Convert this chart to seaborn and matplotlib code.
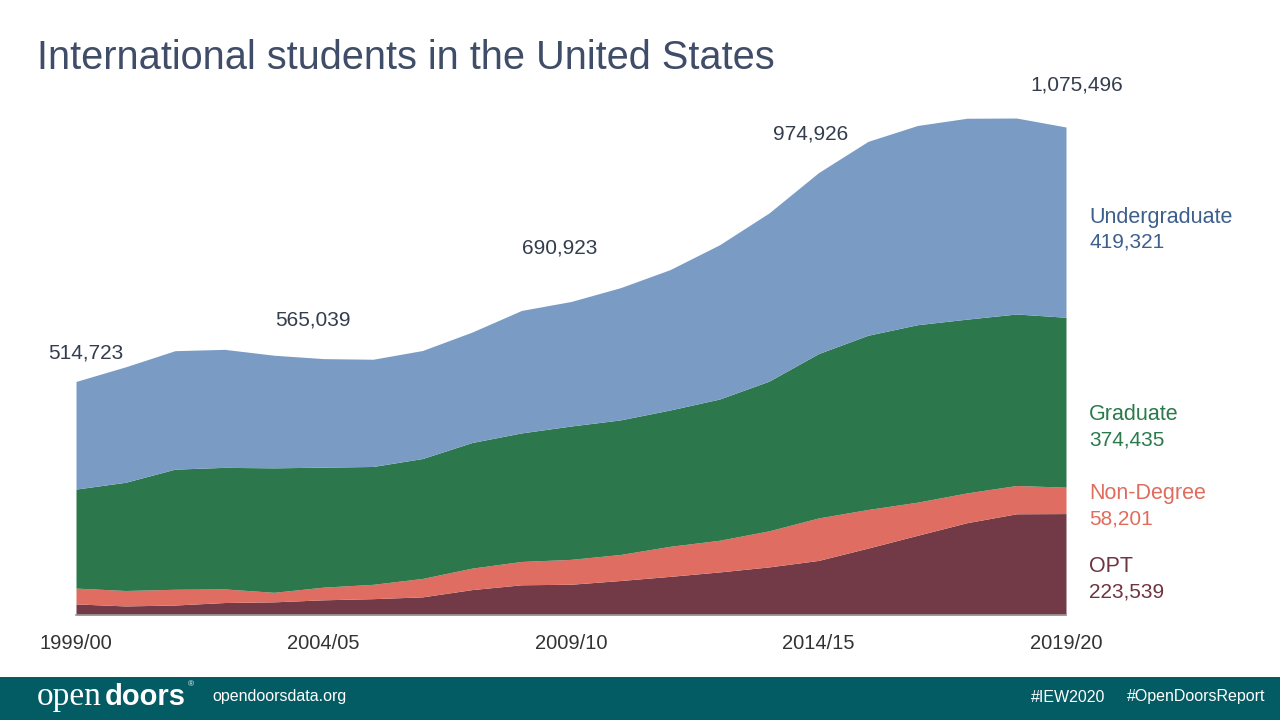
import numpy as np
import matplotlib
matplotlib.use("Agg")
import matplotlib.pyplot as plt
from matplotlib.patches import Rectangle
import seaborn as sns

# Open Doors enrolment by academic level
years = ["1999/00", "2000/01", "2001/02", "2002/03", "2003/04", "2004/05", "2005/06",
         "2006/07", "2007/08", "2008/09", "2009/10", "2010/11", "2011/12", "2012/13",
         "2013/14", "2014/15", "2015/16", "2016/17", "2017/18", "2018/19", "2019/20"]
undergrad = [237211, 254429, 261079, 260103, 248200, 239212, 236342, 238050, 243360, 269874,
             274431, 291439, 309342, 339993, 370724, 398824, 427313, 439019, 442746, 431930, 419321]
graduate = [218219, 238497, 264749, 267876, 274310, 264410, 259717, 264288, 276842, 283329,
            293885, 296574, 300430, 311204, 329854, 362228, 383935, 391124, 382953, 377943, 374435]
non_degree = [34893, 34000, 34700, 30000, 21000, 27917, 31600, 40600, 47300, 51400,
              54803, 57400, 66200, 69800, 79500, 93587, 85093, 72984, 65631, 62341, 58201]
opt = [24400, 20000, 22000, 27500, 29000, 33500, 36000, 40000, 56000, 66600,
       67804, 76031, 85157, 94919, 105997, 120287, 147498, 175695, 203462, 223085, 223539]

tick_years = ["1999/00", "2004/05", "2009/10", "2014/15", "2019/20"]

sns.set_theme(style="white")
plt.rcParams["font.family"] = ["Liberation Sans", "DejaVu Sans"]

colors = {"OPT": "#723a46", "Non-Degree": "#df6d61", "Graduate": "#2c774c", "Undergraduate": "#7a9cc4"}
label_colors = {"OPT": "#6e3440", "Non-Degree": "#e06c5e", "Graduate": "#2a7a4b", "Undergraduate": "#3d5f8c"}

W, H = 1280, 720
fig = plt.figure(figsize=(12.8, 7.2), dpi=100)
fig.patch.set_facecolor("white")

# axes placed so the plot spans the same pixels as the reference
base_px, top_px = 615, 127
ymax = 1100000
total_last = undergrad[-1] + graduate[-1] + non_degree[-1] + opt[-1]
px_per = (base_px - top_px) / total_last
ax_h = ymax * px_per
ax = fig.add_axes([76 / W, 1 - base_px / H, (1066 - 76) / W, ax_h / H])

x = np.arange(len(years))
ax.stackplot(x, opt, non_degree, graduate, undergrad,
             colors=[colors["OPT"], colors["Non-Degree"], colors["Graduate"], colors["Undergraduate"]],
             linewidth=0)
ax.set_xlim(0, len(years) - 1)
ax.set_ylim(0, ymax)
ax.set_yticks([])
sns.despine(ax=ax, left=True, right=True, top=True)
ax.spines["bottom"].set_color("#9a9a9a")
ax.spines["bottom"].set_linewidth(1.2)
ax.set_xticks([years.index(t) for t in tick_years])
ax.set_xticklabels(tick_years, fontsize=14.5, color="#333333")
ax.tick_params(axis="x", length=0, pad=14)
ax.set_facecolor("none")

# total labels
totals = np.array(undergrad) + np.array(graduate) + np.array(non_degree) + np.array(opt)
offsets = {"1999/00": (10, 28), "2004/05": (-11, 39), "2009/10": (-11, 53),
           "2014/15": (-8, 39), "2019/20": (11, 42)}
for t in tick_years:
    i = years.index(t)
    dx, dy = offsets[t]
    ax.annotate(f"{totals[i]:,}", (i, totals[i]), xytext=(dx, dy), textcoords="offset pixels",
                ha="center", va="center", fontsize=15, color="#333d4d", annotation_clip=False)

# right-side series labels
series = [("Undergraduate", undergrad[-1], 217), ("Graduate", graduate[-1], 415),
          ("Non-Degree", non_degree[-1], 494), ("OPT", opt[-1], 567)]
for name, val, ypx in series:
    fig.text(1089 / W, 1 - ypx / H, name, fontsize=15.5, color=label_colors[name], va="center", ha="left")
    fig.text(1089 / W, 1 - (ypx + 25) / H, f"{val:,}", fontsize=15, color=label_colors[name],
             va="center", ha="left")

# title
fig.text(37 / W, 1 - 58 / H, "International students in the United States", fontsize=28.6,
         color="#3f4d68", va="center", ha="left")

# footer band
fig.patches.append(Rectangle((0, 0), 1, 43 / H, transform=fig.transFigure,
                             facecolor="#035c63", edgecolor="none", zorder=0))
fy = 1 - 697 / H
base_y = 1 - 705 / H
fig.text(37 / W, base_y, "open", fontsize=24, color="white", family=["Liberation Serif", "DejaVu Serif"],
         va="baseline", ha="left")
fig.text(105 / W, base_y, "doors", fontsize=21, color="white", fontweight="bold", va="baseline", ha="left")
fig.text(188 / W, 1 - 685 / H, "®", fontsize=6, color="white", va="center", ha="left")
fig.text(212 / W, fy, "opendoorsdata.org", fontsize=11.5, color="white", va="center", ha="left")
fig.text(1105 / W, fy, "#IEW2020", fontsize=11.5, color="white", va="center", ha="right")
fig.text(1265 / W, fy, "#OpenDoorsReport", fontsize=11.5, color="white", va="center", ha="right")

fig.savefig("out.png", dpi=100)
